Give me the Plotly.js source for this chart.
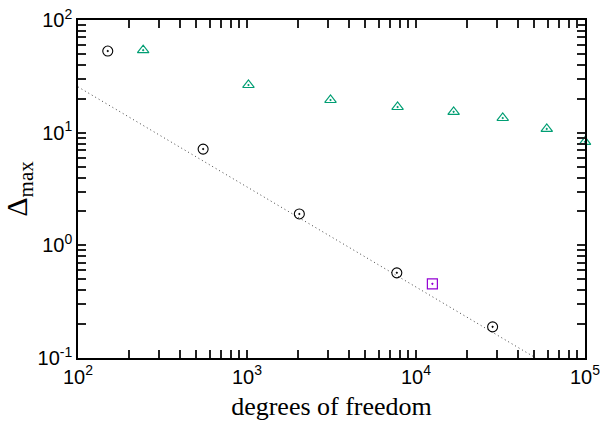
<!DOCTYPE html>
<html>
<head>
<meta charset="utf-8">
<script src="https://cdn.plot.ly/plotly-3.0.1.min.js"></script>
<style>html,body{margin:0;padding:0;background:#fff;}#chart{width:600px;height:428px;}</style>
</head>
<body>
<div id="chart"></div>
<script>
// Data
const circleX = [150, 550, 2040, 7700, 28400];
const circleY = [53, 7.15, 1.9, 0.57, 0.189];
const triX = [243, 1020, 3120, 7780, 16700, 32600, 59400, 100000];
const triY = [54, 26.5, 19.5, 16.9, 15.3, 13.5, 10.8, 8.3];
const squareX = [12500];
const squareY = [0.455];
const fitX = [100, 51200];
const fitY = [25.5, 0.1];

const xTickVals = [100, 1000, 10000, 100000];
const xTickText = ['10<sup>2</sup>', '10<sup>3</sup>', '10<sup>4</sup>', '10<sup>5</sup>'];
const yTickVals = [0.1, 1, 10, 100];
const yTickText = ['10<sup>-1</sup>', '10<sup>0</sup>', '10<sup>1</sup>', '10<sup>2</sup>'];
const minorMult = [2, 3, 4, 5, 6, 7, 8, 9];

function minorTicks(decades) {
  const out = [];
  decades.slice(0, -1).forEach(d => minorMult.forEach(m => out.push(d * m)));
  return out;
}

const traces = [
  {x: fitX, y: fitY, mode: 'lines', line: {color: '#444', width: 1, dash: '1px,3px'}},
  {x: circleX, y: circleY, mode: 'markers',
   marker: {symbol: 'circle-dot', size: 10, color: 'rgba(0,0,0,0)', line: {color: '#000', width: 1.1}}},
  {x: triX, y: triY, mode: 'markers', cliponaxis: false,
   marker: {symbol: 'triangle-up-dot', size: 10, color: 'rgba(0,0,0,0)', line: {color: '#009e73', width: 1.2}}},
  {x: squareX, y: squareY, mode: 'markers',
   marker: {symbol: 'square-dot', size: 10, color: 'rgba(0,0,0,0)', line: {color: '#9400d3', width: 1.2}}}
];

function axis(vals, text, range, title) {
  const minor = minorTicks(vals);
  return {
    type: 'log', range: range, showgrid: false, zeroline: false,
    showline: true, linecolor: 'black', linewidth: 1.5, mirror: 'allticks',
    ticks: 'inside', ticklen: 8, tickwidth: 2, tickcolor: '#222',
    tickvals: vals.concat(minor),
    ticktext: text.concat(minor.map(() => '')),
    ticklabeloverflow: 'allow',
    tickfont: {family: 'Liberation Sans, Arial, sans-serif', size: 20, color: 'black'},
    title: title
  };
}

const layout = {
  width: 600, height: 428,
  margin: {l: 78, r: 15, t: 20, b: 70},
  showlegend: false,
  xaxis: axis(xTickVals, xTickText, [2, 5],
    {text: 'degrees of freedom', font: {family: 'Liberation Serif, Times New Roman, serif', size: 26, color: 'black'}, standoff: 10}),
  yaxis: axis(yTickVals, yTickText, [-1, 2],
    {text: 'Δ<sub>max</sub>', font: {family: 'Liberation Serif, Times New Roman, serif', size: 30, color: 'black'}, standoff: 6})
};

Plotly.newPlot('chart', traces, layout, {displayModeBar: false});
</script>
</body>
</html>
